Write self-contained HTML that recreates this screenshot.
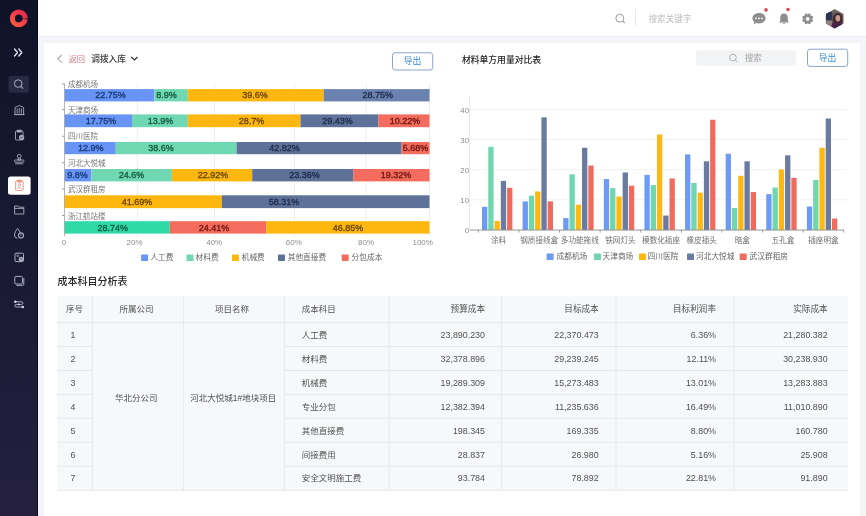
<!DOCTYPE html><html><head><meta charset="utf-8"><style>
*{margin:0;padding:0;box-sizing:border-box}
html,body{width:866px;height:516px;overflow:hidden;background:#F4F5F8;font-family:"Liberation Sans","Noto Sans CJK SC",sans-serif}
svg{will-change:transform}
svg text{font-family:"Liberation Sans","Noto Sans CJK SC",sans-serif}
.abs{position:absolute}

</style></head><body>
<svg class="abs" style="left:0;top:0" width="866" height="516" viewBox="0 0 866 516">
<rect x="38" y="0" width="828" height="36" fill="#FFFFFF"/>
<rect x="38" y="36" width="828" height="1" fill="#ECEEF2"/>
<rect x="44" y="43" width="816" height="480" fill="#FFFFFF"/>
<defs><linearGradient id="sbg" x1="0" y1="0" x2="0" y2="1"><stop offset="0" stop-color="#0E1328"/><stop offset="1" stop-color="#24203E"/></linearGradient></defs>
<rect x="0" y="0" width="38" height="516" fill="url(#sbg)"/>
<rect x="37.2" y="0" width="0.8" height="516" fill="#08091A"/>
<defs><linearGradient id="lg" x1="1" y1="0" x2="0" y2="1"><stop offset="0" stop-color="#E8264E"/><stop offset="1" stop-color="#FF5A3C"/></linearGradient></defs>
<circle cx="18.8" cy="18.4" r="6.4" fill="none" stroke="url(#lg)" stroke-width="5" stroke-dasharray="38.6 1.6" stroke-dashoffset="-0.8"/>
<path d="M14.5 49 L17.5 52.5 L14.5 56 M18.8 49 L21.8 52.5 L18.8 56" fill="none" stroke="#E4E6EE" stroke-width="1.35" stroke-linecap="round" stroke-linejoin="round"/>
<rect x="8.5" y="76" width="20.3" height="16.8" rx="2" fill="#272A42"/>
<circle cx="18.2" cy="83.6" r="3.8" fill="none" stroke="#A9ADC0" stroke-width="1"/><path d="M21 86.4 L23 88.6" stroke="#A9ADC0" stroke-width="1.1"/>
<g fill="none" stroke="#A9ADC0" stroke-width="0.9"><path d="M15 114.5 L15 107.5 L19.3 105.5 L23.6 107.5 L23.6 114.5 Z"/><path d="M17.2 108.5 V113.5 M19.3 108 V113.5 M21.4 108.5 V113.5"/><path d="M14 114.6 H24.6"/></g>
<g fill="none" stroke="#A9ADC0" stroke-width="0.9"><rect x="15.5" y="131" width="7.5" height="9" rx="0.8"/><rect x="17.3" y="130.2" width="3.8" height="1.8" fill="#A9ADC0"/></g><circle cx="21.6" cy="137.4" r="2.6" fill="#A9ADC0"/><path d="M20.4 137.4 L21.3 138.3 L22.8 136.6" stroke="#1A1B37" stroke-width="0.8" fill="none"/>
<g fill="none" stroke="#A9ADC0" stroke-width="0.9"><circle cx="19.2" cy="156.2" r="1.9"/><path d="M18.3 158 L17.8 160 H20.6 L20.1 158"/><rect x="14.6" y="160" width="9.2" height="2.2" rx="0.6"/><path d="M15.2 163.8 H23.2"/></g>
<rect x="8" y="176.5" width="22.6" height="18.2" rx="2.5" fill="#FFFFFF"/>
<g fill="none" stroke="#E8917E" stroke-width="0.9"><rect x="15.6" y="181" width="7.6" height="9.4" rx="0.8"/><rect x="17.6" y="180.2" width="3.6" height="1.8" fill="#E8917E"/><circle cx="19.4" cy="184.8" r="1.2"/><path d="M17.3 188.6 Q19.4 186.2 21.5 188.6"/></g>
<path d="M14.6 206 H18 L19 207.2 H23.8 V214 H14.6 Z M14.6 208.4 H23.8" fill="none" stroke="#A9ADC0" stroke-width="0.9"/>
<path d="M17.6 228.4 C16.2 230.4 14.5 232.6 14.5 234.9 A3.2 3.3 0 0 0 17.4 238.3" fill="none" stroke="#A9ADC0" stroke-width="1"/><path d="M17.6 228.4 C18.6 229.8 19.6 231.2 20.3 232.6" fill="none" stroke="#A9ADC0" stroke-width="1"/>
<circle cx="21" cy="235.4" r="2.5" fill="#1A1B37" stroke="#A9ADC0" stroke-width="1.1"/><circle cx="21" cy="235" r="0.7" fill="#A9ADC0"/>
<rect x="15" y="253.2" width="8.5" height="8.4" rx="1" fill="none" stroke="#A9ADC0" stroke-width="1"/><rect x="16.4" y="254.6" width="2.8" height="2.3" fill="#A9ADC0" fill-opacity="0.55"/>
<circle cx="21" cy="259.2" r="2.4" fill="#A9ADC0"/><path d="M20.3 258.2 L21 259.3 L22 258.9" stroke="#1A1B37" stroke-width="0.6" fill="none"/>
<g fill="none" stroke="#A9ADC0" stroke-width="1"><rect x="14.8" y="276.4" width="7.6" height="7.6" rx="1.2"/><path d="M16.4 285.4 H22.6 Q23.8 285.4 23.8 284.2 V278"/></g>
<path d="M15.3 301.8 H21.6 A1.3 1.3 0 0 1 21.6 304.4 H16.1 A1.3 1.3 0 0 0 16.1 307 H22.8" fill="none" stroke="#A9ADC0" stroke-width="1"/><circle cx="15.3" cy="301.8" r="1.3" fill="#D5D8E6"/><circle cx="22.8" cy="307" r="1.3" fill="#D5D8E6"/><circle cx="18.8" cy="304.4" r="0.9" fill="#D5D8E6"/>
<circle cx="619.8" cy="18.2" r="4" fill="none" stroke="#9A9A9A" stroke-width="1"/><path d="M622.7 21.1 L624.8 23.2" stroke="#9A9A9A" stroke-width="1.1"/>
<rect x="635" y="8.5" width="0.8" height="17.5" fill="#E3E3E3"/>
<text x="648.5" y="18.7" font-size="8.6" fill="#BDBDBD" text-anchor="start" dominant-baseline="central" font-weight="normal">搜索关键字</text>
<path d="M759 13 C755.2 13 752.4 15.3 752.4 18.2 C752.4 19.7 753.1 21 754.3 22 L753.6 24.3 L756.4 23.1 C757.2 23.3 758.1 23.4 759 23.4 C762.8 23.4 765.6 21.1 765.6 18.2 C765.6 15.3 762.8 13 759 13 Z" fill="#8E8E8E"/>
<circle cx="756" cy="18.3" r="0.9" fill="#fff"/><circle cx="759" cy="18.3" r="0.9" fill="#fff"/><circle cx="762" cy="18.3" r="0.9" fill="#fff"/>
<circle cx="766" cy="9.9" r="1.8" fill="#E0474C"/>
<path d="M784 13.6 C781.3 13.6 780.2 15.6 780.2 18 V21 L778.8 22.6 H789.2 L787.8 21 V18 C787.8 15.6 786.7 13.6 784 13.6 Z" fill="#8E8E8E"/><path d="M782.5 23.2 A1.6 1.6 0 0 0 785.5 23.2 Z" fill="#8E8E8E"/>
<circle cx="788" cy="9.5" r="1.8" fill="#E0474C"/>
<circle cx="807.7" cy="18.9" r="4.3" fill="#8E8E8E"/><circle cx="811.58" cy="20.51" r="1.45" fill="#8E8E8E"/><circle cx="809.31" cy="22.78" r="1.45" fill="#8E8E8E"/><circle cx="806.09" cy="22.78" r="1.45" fill="#8E8E8E"/><circle cx="803.82" cy="20.51" r="1.45" fill="#8E8E8E"/><circle cx="803.82" cy="17.29" r="1.45" fill="#8E8E8E"/><circle cx="806.09" cy="15.02" r="1.45" fill="#8E8E8E"/><circle cx="809.31" cy="15.02" r="1.45" fill="#8E8E8E"/><circle cx="811.58" cy="17.29" r="1.45" fill="#8E8E8E"/><circle cx="807.7" cy="18.9" r="1.9" fill="#fff"/>
<defs><clipPath id="hx"><path d="M834.7 8.9 L843.5 13.9 L843.5 23.6 L834.7 28.6 L825.9 23.6 L825.9 13.9 Z"/></clipPath><linearGradient id="ag" x1="0" y1="0" x2="0" y2="1"><stop offset="0" stop-color="#6F6A66"/><stop offset="1" stop-color="#5A4A4E"/></linearGradient></defs>
<g clip-path="url(#hx)"><rect x="825" y="8" width="20" height="22" fill="url(#ag)"/><rect x="825" y="12" width="7.2" height="8.5" fill="#2E3150"/><rect x="825" y="20.5" width="7" height="5" fill="#8C8279"/><ellipse cx="837.6" cy="19" rx="4.6" ry="6" fill="#3B2426"/><ellipse cx="837.9" cy="18.3" rx="2.4" ry="3.2" fill="#C99B8D"/><path d="M830 30 L832.5 23 Q837 21 842 23.5 L845 30 Z" fill="#4B2146"/></g>
<path d="M61.8 55 L57.8 58.8 L61.8 62.6" fill="none" stroke="#A8A8A8" stroke-width="1.1"/>
<text x="68.4" y="59.0" font-size="8.3" fill="#CF7D86" text-anchor="start" dominant-baseline="central" font-weight="normal">返回</text>
<text x="91.2" y="59.2" font-size="8.7" fill="#383838" text-anchor="start" dominant-baseline="central" font-weight="500">调拨入库</text>
<path d="M131.3 57 L134.4 60 L137.5 57" fill="none" stroke="#333" stroke-width="1.2"/>
<rect x="392.5" y="52.8" width="40.2" height="17.2" rx="2.5" fill="#fff" stroke="#8BA6C8" stroke-width="1"/>
<text x="412.6" y="60.8" font-size="8.8" fill="#3A8BD2" text-anchor="middle" dominant-baseline="central" font-weight="normal">导出</text>
<text x="461.9" y="59.8" font-size="8.8" fill="#262626" text-anchor="start" dominant-baseline="central" font-weight="500">材料单方用量对比表</text>
<rect x="696.2" y="50.2" width="99.8" height="15.4" rx="2" fill="#F2F3F5"/>
<circle cx="733" cy="57.6" r="3.3" fill="none" stroke="#A8A8A8" stroke-width="0.9"/><path d="M735.4 60 L737 61.6" stroke="#A8A8A8" stroke-width="1"/>
<text x="744.7" y="58.2" font-size="8.6" fill="#A5A5A5" text-anchor="start" dominant-baseline="central" font-weight="normal">搜索</text>
<rect x="807.5" y="49.2" width="40.2" height="17.2" rx="2.5" fill="#fff" stroke="#8BA6C8" stroke-width="1"/>
<text x="827.6" y="57.5" font-size="8.8" fill="#3A8BD2" text-anchor="middle" dominant-baseline="central" font-weight="normal">导出</text>
<rect x="136.8" y="83.5" width="1" height="153.5" fill="#EEEEEE"/>
<rect x="214.1" y="83.5" width="1" height="153.5" fill="#EEEEEE"/>
<rect x="294.0" y="83.5" width="1" height="153.5" fill="#EEEEEE"/>
<rect x="365.7" y="83.5" width="1" height="153.5" fill="#EEEEEE"/>
<rect x="429.0" y="83.5" width="1" height="153.5" fill="#EEEEEE"/>
<rect x="64.5" y="89.10" width="89.90" height="12.3" fill="#6794F5"/>
<rect x="154.4" y="89.10" width="33.40" height="12.3" fill="#6FD8B2"/>
<rect x="187.8" y="89.10" width="135.90" height="12.3" fill="#FEB70E"/>
<rect x="323.7" y="89.10" width="105.80" height="12.3" fill="#6B82AE"/>
<text x="110.4" y="95.35" font-size="9" fill="#1B3A7A" stroke="#1B3A7A" stroke-width="0.35" text-anchor="middle" dominant-baseline="central">22.75%</text>
<text x="166.4" y="95.35" font-size="9" fill="#135C40" stroke="#135C40" stroke-width="0.35" text-anchor="middle" dominant-baseline="central">8.9%</text>
<text x="254.9" y="95.35" font-size="9" fill="#6A4604" stroke="#6A4604" stroke-width="0.35" text-anchor="middle" dominant-baseline="central">39.6%</text>
<text x="377.7" y="95.35" font-size="9" fill="#1C2B4D" stroke="#1C2B4D" stroke-width="0.35" text-anchor="middle" dominant-baseline="central">28.75%</text>
<text x="68" y="84.6" font-size="7.5" fill="#777777" text-anchor="start" dominant-baseline="central" font-weight="normal">成都机场</text>
<rect x="62" y="83.50" width="2.6" height="0.8" fill="#8A8A8A"/>
<rect x="64.5" y="114.40" width="67.50" height="12.8" fill="#6794F5"/>
<rect x="132" y="114.40" width="55.80" height="12.8" fill="#6FD8B2"/>
<rect x="187.8" y="114.40" width="112.70" height="12.8" fill="#FEB70E"/>
<rect x="300.5" y="114.40" width="77.90" height="12.8" fill="#5E7198"/>
<rect x="378.4" y="114.40" width="51.10" height="12.8" fill="#F46C5D"/>
<text x="101.1" y="120.90" font-size="9" fill="#1B3A7A" stroke="#1B3A7A" stroke-width="0.35" text-anchor="middle" dominant-baseline="central">17.75%</text>
<text x="160.4" y="120.90" font-size="9" fill="#135C40" stroke="#135C40" stroke-width="0.35" text-anchor="middle" dominant-baseline="central">13.9%</text>
<text x="251.6" y="120.90" font-size="9" fill="#6A4604" stroke="#6A4604" stroke-width="0.35" text-anchor="middle" dominant-baseline="central">28.7%</text>
<text x="337.6" y="120.90" font-size="9" fill="#1C2B4D" stroke="#1C2B4D" stroke-width="0.35" text-anchor="middle" dominant-baseline="central">29.43%</text>
<text x="404.9" y="120.90" font-size="9" fill="#6E1812" stroke="#6E1812" stroke-width="0.35" text-anchor="middle" dominant-baseline="central">10.22%</text>
<text x="68" y="110.4" font-size="7.5" fill="#777777" text-anchor="start" dominant-baseline="central" font-weight="normal">天津商场</text>
<rect x="62" y="109.30" width="2.6" height="0.8" fill="#8A8A8A"/>
<rect x="64.5" y="142.00" width="51.30" height="12.2" fill="#6794F5"/>
<rect x="115.8" y="142.00" width="120.80" height="12.2" fill="#6FD8B2"/>
<rect x="236.6" y="142.00" width="165.00" height="12.2" fill="#5E7198"/>
<rect x="401.6" y="142.00" width="27.90" height="12.2" fill="#F46C5D"/>
<text x="90.7" y="148.20" font-size="9" fill="#1B3A7A" stroke="#1B3A7A" stroke-width="0.35" text-anchor="middle" dominant-baseline="central">12.9%</text>
<text x="160.9" y="148.20" font-size="9" fill="#135C40" stroke="#135C40" stroke-width="0.35" text-anchor="middle" dominant-baseline="central">38.6%</text>
<text x="284.4" y="148.20" font-size="9" fill="#1C2B4D" stroke="#1C2B4D" stroke-width="0.35" text-anchor="middle" dominant-baseline="central">42.82%</text>
<text x="415.5" y="148.20" font-size="9" fill="#6E1812" stroke="#6E1812" stroke-width="0.35" text-anchor="middle" dominant-baseline="central">5.68%</text>
<text x="68" y="136.9" font-size="7.5" fill="#777777" text-anchor="start" dominant-baseline="central" font-weight="normal">四川医院</text>
<rect x="62" y="135.80" width="2.6" height="0.8" fill="#8A8A8A"/>
<rect x="64.5" y="169.00" width="26.90" height="12.4" fill="#6794F5"/>
<rect x="91.4" y="169.00" width="80.50" height="12.4" fill="#6FD8B2"/>
<rect x="171.9" y="169.00" width="80.30" height="12.4" fill="#FEB70E"/>
<rect x="252.2" y="169.00" width="101.20" height="12.4" fill="#5E7198"/>
<rect x="353.4" y="169.00" width="76.10" height="12.4" fill="#F46C5D"/>
<text x="77.5" y="175.30" font-size="9" fill="#1B3A7A" stroke="#1B3A7A" stroke-width="0.35" text-anchor="middle" dominant-baseline="central">9.8%</text>
<text x="131.6" y="175.30" font-size="9" fill="#135C40" stroke="#135C40" stroke-width="0.35" text-anchor="middle" dominant-baseline="central">24.6%</text>
<text x="213" y="175.30" font-size="9" fill="#6A4604" stroke="#6A4604" stroke-width="0.35" text-anchor="middle" dominant-baseline="central">22.92%</text>
<text x="304.4" y="175.30" font-size="9" fill="#1C2B4D" stroke="#1C2B4D" stroke-width="0.35" text-anchor="middle" dominant-baseline="central">23.36%</text>
<text x="396" y="175.30" font-size="9" fill="#6E1812" stroke="#6E1812" stroke-width="0.35" text-anchor="middle" dominant-baseline="central">19.32%</text>
<text x="68" y="163.5" font-size="7.5" fill="#777777" text-anchor="start" dominant-baseline="central" font-weight="normal">河北大悦城</text>
<rect x="62" y="162.40" width="2.6" height="0.8" fill="#8A8A8A"/>
<rect x="64.5" y="195.30" width="157.30" height="12.8" fill="#FEB70E"/>
<rect x="221.8" y="195.30" width="207.70" height="12.8" fill="#5E7198"/>
<text x="137.1" y="201.80" font-size="9" fill="#6A4604" stroke="#6A4604" stroke-width="0.35" text-anchor="middle" dominant-baseline="central">41.69%</text>
<text x="283.9" y="201.80" font-size="9" fill="#1C2B4D" stroke="#1C2B4D" stroke-width="0.35" text-anchor="middle" dominant-baseline="central">58.31%</text>
<text x="68" y="189.7" font-size="7.5" fill="#777777" text-anchor="start" dominant-baseline="central" font-weight="normal">武汉群租房</text>
<rect x="62" y="188.60" width="2.6" height="0.8" fill="#8A8A8A"/>
<rect x="64.5" y="221.20" width="105.30" height="12.4" fill="#2FDAA8"/>
<rect x="169.8" y="221.20" width="96.40" height="12.4" fill="#F46C5D"/>
<rect x="266.2" y="221.20" width="163.30" height="12.4" fill="#FEB70E"/>
<text x="112.7" y="227.50" font-size="9" fill="#0F5A40" stroke="#0F5A40" stroke-width="0.35" text-anchor="middle" dominant-baseline="central">28.74%</text>
<text x="214.1" y="227.50" font-size="9" fill="#6E1812" stroke="#6E1812" stroke-width="0.35" text-anchor="middle" dominant-baseline="central">24.41%</text>
<text x="348" y="227.50" font-size="9" fill="#6A4604" stroke="#6A4604" stroke-width="0.35" text-anchor="middle" dominant-baseline="central">46.85%</text>
<text x="68" y="216.3" font-size="7.5" fill="#777777" text-anchor="start" dominant-baseline="central" font-weight="normal">浙江航站楼</text>
<rect x="62" y="215.20" width="2.6" height="0.8" fill="#8A8A8A"/>
<rect x="64.2" y="83.7" width="0.8" height="152.3" fill="#A4A4A4"/>
<text x="64.1" y="242.5" font-size="8" fill="#8C8C8C" text-anchor="middle" dominant-baseline="central" font-weight="normal">0</text>
<text x="134.5" y="242.5" font-size="8" fill="#8C8C8C" text-anchor="middle" dominant-baseline="central" font-weight="normal">20%</text>
<text x="214.2" y="242.5" font-size="8" fill="#8C8C8C" text-anchor="middle" dominant-baseline="central" font-weight="normal">40%</text>
<text x="293.8" y="242.5" font-size="8" fill="#8C8C8C" text-anchor="middle" dominant-baseline="central" font-weight="normal">60%</text>
<text x="366" y="242.5" font-size="8" fill="#8C8C8C" text-anchor="middle" dominant-baseline="central" font-weight="normal">80%</text>
<text x="422.7" y="242.5" font-size="8" fill="#8C8C8C" text-anchor="middle" dominant-baseline="central" font-weight="normal">100%</text>
<rect x="141.1" y="254.5" width="7" height="6.5" rx="0.8" fill="#6794F5"/>
<text x="150.4" y="257.8" font-size="7.7" fill="#666666" text-anchor="start" dominant-baseline="central" font-weight="normal">人工费</text>
<rect x="186.5" y="254.5" width="7" height="6.5" rx="0.8" fill="#6FD8B2"/>
<text x="195.5" y="257.8" font-size="7.7" fill="#666666" text-anchor="start" dominant-baseline="central" font-weight="normal">材料费</text>
<rect x="232" y="254.5" width="7" height="6.5" rx="0.8" fill="#FEB70E"/>
<text x="241.7" y="257.8" font-size="7.7" fill="#666666" text-anchor="start" dominant-baseline="central" font-weight="normal">机械费</text>
<rect x="278" y="254.5" width="7" height="6.5" rx="0.8" fill="#5E7198"/>
<text x="287.7" y="257.8" font-size="7.7" fill="#666666" text-anchor="start" dominant-baseline="central" font-weight="normal">其他直接费</text>
<rect x="341.7" y="254.5" width="7" height="6.5" rx="0.8" fill="#F46C5D"/>
<text x="351.6" y="257.8" font-size="7.7" fill="#666666" text-anchor="start" dominant-baseline="central" font-weight="normal">分包成本</text>
<rect x="470" y="199.47" width="377" height="0.8" fill="#EFEFEF"/>
<rect x="470" y="169.35" width="377" height="0.8" fill="#EFEFEF"/>
<rect x="470" y="139.22" width="377" height="0.8" fill="#EFEFEF"/>
<rect x="470" y="109.10" width="377" height="0.8" fill="#EFEFEF"/>
<rect x="469" y="96.5" width="0.8" height="134" fill="#E2E2E2"/>
<text x="469" y="230.5" font-size="7.8" fill="#8C8C8C" text-anchor="end" dominant-baseline="central" font-weight="normal">0</text>
<text x="469" y="200.38" font-size="7.8" fill="#8C8C8C" text-anchor="end" dominant-baseline="central" font-weight="normal">10</text>
<text x="469" y="170.25" font-size="7.8" fill="#8C8C8C" text-anchor="end" dominant-baseline="central" font-weight="normal">20</text>
<text x="469" y="140.12" font-size="7.8" fill="#8C8C8C" text-anchor="end" dominant-baseline="central" font-weight="normal">30</text>
<text x="469" y="110.0" font-size="7.8" fill="#8C8C8C" text-anchor="end" dominant-baseline="central" font-weight="normal">40</text>
<rect x="482.00" y="206.80" width="5.3" height="23.20" fill="#6C9AF4"/>
<rect x="488.27" y="146.85" width="5.3" height="83.15" fill="#6FD6B0"/>
<rect x="494.54" y="220.96" width="5.3" height="9.04" fill="#FDB812"/>
<rect x="500.81" y="180.90" width="5.3" height="49.10" fill="#6A7B9F"/>
<rect x="507.08" y="187.82" width="5.3" height="42.18" fill="#F06B5D"/>
<text x="498.6" y="240.5" font-size="7.6" fill="#707070" text-anchor="middle" dominant-baseline="central" font-weight="normal">涂料</text>
<rect x="522.61" y="201.38" width="5.3" height="28.62" fill="#6C9AF4"/>
<rect x="528.88" y="195.66" width="5.3" height="34.34" fill="#6FD6B0"/>
<rect x="535.15" y="191.44" width="5.3" height="38.56" fill="#FDB812"/>
<rect x="541.42" y="117.33" width="5.3" height="112.67" fill="#6A7B9F"/>
<rect x="547.69" y="201.38" width="5.3" height="28.62" fill="#F06B5D"/>
<text x="539.21" y="240.5" font-size="7.6" fill="#707070" text-anchor="middle" dominant-baseline="central" font-weight="normal">钢质接线盒</text>
<rect x="563.22" y="218.10" width="5.3" height="11.90" fill="#6C9AF4"/>
<rect x="569.49" y="174.27" width="5.3" height="55.73" fill="#6FD6B0"/>
<rect x="575.76" y="204.69" width="5.3" height="25.31" fill="#FDB812"/>
<rect x="582.03" y="147.76" width="5.3" height="82.24" fill="#6A7B9F"/>
<rect x="588.30" y="165.53" width="5.3" height="64.47" fill="#F06B5D"/>
<text x="579.82" y="240.5" font-size="7.6" fill="#707070" text-anchor="middle" dominant-baseline="central" font-weight="normal">多功能拖线</text>
<rect x="603.83" y="179.09" width="5.3" height="50.91" fill="#6C9AF4"/>
<rect x="610.10" y="188.13" width="5.3" height="41.87" fill="#6FD6B0"/>
<rect x="616.37" y="196.56" width="5.3" height="33.44" fill="#FDB812"/>
<rect x="622.64" y="172.46" width="5.3" height="57.54" fill="#6A7B9F"/>
<rect x="628.91" y="185.72" width="5.3" height="44.28" fill="#F06B5D"/>
<text x="620.43" y="240.5" font-size="7.6" fill="#707070" text-anchor="middle" dominant-baseline="central" font-weight="normal">铁网灯头</text>
<rect x="644.44" y="174.87" width="5.3" height="55.13" fill="#6C9AF4"/>
<rect x="650.71" y="185.11" width="5.3" height="44.89" fill="#6FD6B0"/>
<rect x="656.98" y="134.50" width="5.3" height="95.50" fill="#FDB812"/>
<rect x="663.25" y="215.54" width="5.3" height="14.46" fill="#6A7B9F"/>
<rect x="669.52" y="178.49" width="5.3" height="51.51" fill="#F06B5D"/>
<text x="661.04" y="240.5" font-size="7.6" fill="#707070" text-anchor="middle" dominant-baseline="central" font-weight="normal">模数化插座</text>
<rect x="685.05" y="154.39" width="5.3" height="75.61" fill="#6C9AF4"/>
<rect x="691.32" y="183.00" width="5.3" height="47.00" fill="#6FD6B0"/>
<rect x="697.59" y="192.64" width="5.3" height="37.36" fill="#FDB812"/>
<rect x="703.86" y="161.31" width="5.3" height="68.69" fill="#6A7B9F"/>
<rect x="710.13" y="119.74" width="5.3" height="110.26" fill="#F06B5D"/>
<text x="701.65" y="240.5" font-size="7.6" fill="#707070" text-anchor="middle" dominant-baseline="central" font-weight="normal">橡皮插头</text>
<rect x="725.66" y="153.78" width="5.3" height="76.22" fill="#6C9AF4"/>
<rect x="731.93" y="208.01" width="5.3" height="21.99" fill="#6FD6B0"/>
<rect x="738.20" y="175.78" width="5.3" height="54.23" fill="#FDB812"/>
<rect x="744.47" y="161.31" width="5.3" height="68.69" fill="#6A7B9F"/>
<rect x="750.74" y="192.04" width="5.3" height="37.96" fill="#F06B5D"/>
<text x="742.26" y="240.5" font-size="7.6" fill="#707070" text-anchor="middle" dominant-baseline="central" font-weight="normal">暗盒</text>
<rect x="766.27" y="194.15" width="5.3" height="35.85" fill="#6C9AF4"/>
<rect x="772.54" y="187.52" width="5.3" height="42.48" fill="#6FD6B0"/>
<rect x="778.81" y="169.45" width="5.3" height="60.55" fill="#FDB812"/>
<rect x="785.08" y="155.29" width="5.3" height="74.71" fill="#6A7B9F"/>
<rect x="791.35" y="177.88" width="5.3" height="52.12" fill="#F06B5D"/>
<text x="782.87" y="240.5" font-size="7.6" fill="#707070" text-anchor="middle" dominant-baseline="central" font-weight="normal">五孔盒</text>
<rect x="806.88" y="206.50" width="5.3" height="23.50" fill="#6C9AF4"/>
<rect x="813.15" y="179.99" width="5.3" height="50.01" fill="#6FD6B0"/>
<rect x="819.42" y="147.76" width="5.3" height="82.24" fill="#FDB812"/>
<rect x="825.69" y="118.54" width="5.3" height="111.46" fill="#6A7B9F"/>
<rect x="831.96" y="218.55" width="5.3" height="11.45" fill="#F06B5D"/>
<text x="823.48" y="240.5" font-size="7.6" fill="#707070" text-anchor="middle" dominant-baseline="central" font-weight="normal">插座明盒</text>
<rect x="470" y="229.6" width="374" height="0.9" fill="#8C8C8C"/>
<rect x="477.90" y="230" width="0.8" height="2.6" fill="#8C8C8C"/>
<rect x="518.51" y="230" width="0.8" height="2.6" fill="#8C8C8C"/>
<rect x="559.12" y="230" width="0.8" height="2.6" fill="#8C8C8C"/>
<rect x="599.73" y="230" width="0.8" height="2.6" fill="#8C8C8C"/>
<rect x="640.34" y="230" width="0.8" height="2.6" fill="#8C8C8C"/>
<rect x="680.95" y="230" width="0.8" height="2.6" fill="#8C8C8C"/>
<rect x="721.56" y="230" width="0.8" height="2.6" fill="#8C8C8C"/>
<rect x="762.17" y="230" width="0.8" height="2.6" fill="#8C8C8C"/>
<rect x="802.78" y="230" width="0.8" height="2.6" fill="#8C8C8C"/>
<rect x="843.39" y="230" width="0.8" height="2.6" fill="#8C8C8C"/>
<rect x="546.6" y="253.4" width="7" height="6.6" rx="0.8" fill="#6C9AF4"/>
<text x="556.5" y="256.8" font-size="7.7" fill="#666666" text-anchor="start" dominant-baseline="central" font-weight="normal">成都机场</text>
<rect x="594" y="253.4" width="7" height="6.6" rx="0.8" fill="#6FD6B0"/>
<text x="602.5" y="256.8" font-size="7.7" fill="#666666" text-anchor="start" dominant-baseline="central" font-weight="normal">天津商场</text>
<rect x="639" y="253.4" width="7" height="6.6" rx="0.8" fill="#FDB812"/>
<text x="647.5" y="256.8" font-size="7.7" fill="#666666" text-anchor="start" dominant-baseline="central" font-weight="normal">四川医院</text>
<rect x="687" y="253.4" width="7" height="6.6" rx="0.8" fill="#6A7B9F"/>
<text x="696" y="256.8" font-size="7.7" fill="#666666" text-anchor="start" dominant-baseline="central" font-weight="normal">河北大悦城</text>
<rect x="739.7" y="253.4" width="7" height="6.6" rx="0.8" fill="#F06B5D"/>
<text x="749.6" y="256.8" font-size="7.7" fill="#666666" text-anchor="start" dominant-baseline="central" font-weight="normal">武汉群租房</text>
<text x="57.6" y="281.7" font-size="10" fill="#262626" text-anchor="start" dominant-baseline="central" font-weight="500">成本科目分析表</text>
<rect x="57.2" y="296" width="790.8" height="194.3" fill="#F7F8FA"/>
<rect x="57.2" y="322.1" width="790.8" height="1" fill="#E6E8EC"/>
<rect x="57.2" y="346.03" width="35.10" height="1" fill="#E6E8EC"/>
<rect x="284.4" y="346.03" width="563.60" height="1" fill="#E6E8EC"/>
<rect x="57.2" y="369.96" width="35.10" height="1" fill="#E6E8EC"/>
<rect x="284.4" y="369.96" width="563.60" height="1" fill="#E6E8EC"/>
<rect x="57.2" y="393.89" width="35.10" height="1" fill="#E6E8EC"/>
<rect x="284.4" y="393.89" width="563.60" height="1" fill="#E6E8EC"/>
<rect x="57.2" y="417.82" width="35.10" height="1" fill="#E6E8EC"/>
<rect x="284.4" y="417.82" width="563.60" height="1" fill="#E6E8EC"/>
<rect x="57.2" y="441.75" width="35.10" height="1" fill="#E6E8EC"/>
<rect x="284.4" y="441.75" width="563.60" height="1" fill="#E6E8EC"/>
<rect x="57.2" y="465.68" width="35.10" height="1" fill="#E6E8EC"/>
<rect x="284.4" y="465.68" width="563.60" height="1" fill="#E6E8EC"/>
<rect x="57.2" y="489.8" width="790.8" height="1" fill="#E6E8EC"/>
<rect x="91.8" y="296" width="1" height="194.3" fill="#E6E8EC"/>
<rect x="182.9" y="296" width="1" height="194.3" fill="#E6E8EC"/>
<rect x="283.9" y="296" width="1" height="194.3" fill="#E6E8EC"/>
<rect x="388.6" y="296" width="1" height="194.3" fill="#E6E8EC"/>
<rect x="501.2" y="296" width="1" height="194.3" fill="#E6E8EC"/>
<rect x="615.5" y="296" width="1" height="194.3" fill="#E6E8EC"/>
<rect x="733.4" y="296" width="1" height="194.3" fill="#E6E8EC"/>
<text x="74.4" y="309.0" font-size="8.5" fill="#505050" text-anchor="middle" dominant-baseline="central" font-weight="normal">序号</text>
<text x="136.4" y="309.0" font-size="8.5" fill="#505050" text-anchor="middle" dominant-baseline="central" font-weight="normal">所属公司</text>
<text x="231.9" y="309.0" font-size="8.5" fill="#505050" text-anchor="middle" dominant-baseline="central" font-weight="normal">项目名称</text>
<text x="301.7" y="309.0" font-size="8.5" fill="#505050" text-anchor="start" dominant-baseline="central" font-weight="normal">成本科目</text>
<text x="485" y="309.0" font-size="8.6" fill="#505050" text-anchor="end" dominant-baseline="central" font-weight="normal">预算成本</text>
<text x="598.7" y="309.0" font-size="8.6" fill="#505050" text-anchor="end" dominant-baseline="central" font-weight="normal">目标成本</text>
<text x="716" y="309.0" font-size="8.6" fill="#505050" text-anchor="end" dominant-baseline="central" font-weight="normal">目标利润率</text>
<text x="827.6" y="309.0" font-size="8.6" fill="#505050" text-anchor="end" dominant-baseline="central" font-weight="normal">实际成本</text>
<text x="73.0" y="334.9" font-size="8.8" fill="#505050" text-anchor="middle" dominant-baseline="central" font-weight="normal">1</text>
<text x="301.7" y="334.9" font-size="8.5" fill="#505050" text-anchor="start" dominant-baseline="central" font-weight="normal">人工费</text>
<text x="485" y="334.9" font-size="8.9" fill="#505050" text-anchor="end" dominant-baseline="central" font-weight="normal">23,890.230</text>
<text x="598.7" y="334.9" font-size="8.9" fill="#505050" text-anchor="end" dominant-baseline="central" font-weight="normal">22,370.473</text>
<text x="716" y="334.9" font-size="8.9" fill="#505050" text-anchor="end" dominant-baseline="central" font-weight="normal">6.36%</text>
<text x="827.6" y="334.9" font-size="8.9" fill="#505050" text-anchor="end" dominant-baseline="central" font-weight="normal">21,280.382</text>
<text x="73.0" y="358.83" font-size="8.8" fill="#505050" text-anchor="middle" dominant-baseline="central" font-weight="normal">2</text>
<text x="301.7" y="358.83" font-size="8.5" fill="#505050" text-anchor="start" dominant-baseline="central" font-weight="normal">材料费</text>
<text x="485" y="358.83" font-size="8.9" fill="#505050" text-anchor="end" dominant-baseline="central" font-weight="normal">32,378.896</text>
<text x="598.7" y="358.83" font-size="8.9" fill="#505050" text-anchor="end" dominant-baseline="central" font-weight="normal">29,239.245</text>
<text x="716" y="358.83" font-size="8.9" fill="#505050" text-anchor="end" dominant-baseline="central" font-weight="normal">12.11%</text>
<text x="827.6" y="358.83" font-size="8.9" fill="#505050" text-anchor="end" dominant-baseline="central" font-weight="normal">30,238.930</text>
<text x="73.0" y="382.76" font-size="8.8" fill="#505050" text-anchor="middle" dominant-baseline="central" font-weight="normal">3</text>
<text x="301.7" y="382.76" font-size="8.5" fill="#505050" text-anchor="start" dominant-baseline="central" font-weight="normal">机械费</text>
<text x="485" y="382.76" font-size="8.9" fill="#505050" text-anchor="end" dominant-baseline="central" font-weight="normal">19,289.309</text>
<text x="598.7" y="382.76" font-size="8.9" fill="#505050" text-anchor="end" dominant-baseline="central" font-weight="normal">15,273.483</text>
<text x="716" y="382.76" font-size="8.9" fill="#505050" text-anchor="end" dominant-baseline="central" font-weight="normal">13.01%</text>
<text x="827.6" y="382.76" font-size="8.9" fill="#505050" text-anchor="end" dominant-baseline="central" font-weight="normal">13,283.883</text>
<text x="73.0" y="406.69" font-size="8.8" fill="#505050" text-anchor="middle" dominant-baseline="central" font-weight="normal">4</text>
<text x="301.7" y="406.69" font-size="8.5" fill="#505050" text-anchor="start" dominant-baseline="central" font-weight="normal">专业分包</text>
<text x="485" y="406.69" font-size="8.9" fill="#505050" text-anchor="end" dominant-baseline="central" font-weight="normal">12,382.394</text>
<text x="598.7" y="406.69" font-size="8.9" fill="#505050" text-anchor="end" dominant-baseline="central" font-weight="normal">11,235.636</text>
<text x="716" y="406.69" font-size="8.9" fill="#505050" text-anchor="end" dominant-baseline="central" font-weight="normal">16.49%</text>
<text x="827.6" y="406.69" font-size="8.9" fill="#505050" text-anchor="end" dominant-baseline="central" font-weight="normal">11,010.890</text>
<text x="73.0" y="430.62" font-size="8.8" fill="#505050" text-anchor="middle" dominant-baseline="central" font-weight="normal">5</text>
<text x="301.7" y="430.62" font-size="8.5" fill="#505050" text-anchor="start" dominant-baseline="central" font-weight="normal">其他直接费</text>
<text x="485" y="430.62" font-size="8.9" fill="#505050" text-anchor="end" dominant-baseline="central" font-weight="normal">198.345</text>
<text x="598.7" y="430.62" font-size="8.9" fill="#505050" text-anchor="end" dominant-baseline="central" font-weight="normal">169.335</text>
<text x="716" y="430.62" font-size="8.9" fill="#505050" text-anchor="end" dominant-baseline="central" font-weight="normal">8.80%</text>
<text x="827.6" y="430.62" font-size="8.9" fill="#505050" text-anchor="end" dominant-baseline="central" font-weight="normal">160.780</text>
<text x="73.0" y="454.55" font-size="8.8" fill="#505050" text-anchor="middle" dominant-baseline="central" font-weight="normal">6</text>
<text x="301.7" y="454.55" font-size="8.5" fill="#505050" text-anchor="start" dominant-baseline="central" font-weight="normal">间接费用</text>
<text x="485" y="454.55" font-size="8.9" fill="#505050" text-anchor="end" dominant-baseline="central" font-weight="normal">28.837</text>
<text x="598.7" y="454.55" font-size="8.9" fill="#505050" text-anchor="end" dominant-baseline="central" font-weight="normal">26.980</text>
<text x="716" y="454.55" font-size="8.9" fill="#505050" text-anchor="end" dominant-baseline="central" font-weight="normal">5.16%</text>
<text x="827.6" y="454.55" font-size="8.9" fill="#505050" text-anchor="end" dominant-baseline="central" font-weight="normal">25.908</text>
<text x="73.0" y="478.48" font-size="8.8" fill="#505050" text-anchor="middle" dominant-baseline="central" font-weight="normal">7</text>
<text x="301.7" y="478.48" font-size="8.5" fill="#505050" text-anchor="start" dominant-baseline="central" font-weight="normal">安全文明施工费</text>
<text x="485" y="478.48" font-size="8.9" fill="#505050" text-anchor="end" dominant-baseline="central" font-weight="normal">93.784</text>
<text x="598.7" y="478.48" font-size="8.9" fill="#505050" text-anchor="end" dominant-baseline="central" font-weight="normal">78.892</text>
<text x="716" y="478.48" font-size="8.9" fill="#505050" text-anchor="end" dominant-baseline="central" font-weight="normal">22.81%</text>
<text x="827.6" y="478.48" font-size="8.9" fill="#505050" text-anchor="end" dominant-baseline="central" font-weight="normal">91.890</text>
<text x="136.3" y="398.3" font-size="8.5" fill="#505050" text-anchor="middle" dominant-baseline="central" font-weight="normal">华北分公司</text>
<text x="233.3" y="398.3" font-size="8.5" fill="#505050" text-anchor="middle" dominant-baseline="central" font-weight="normal">河北大悦城1#地块项目</text>
</svg>
</body></html>
